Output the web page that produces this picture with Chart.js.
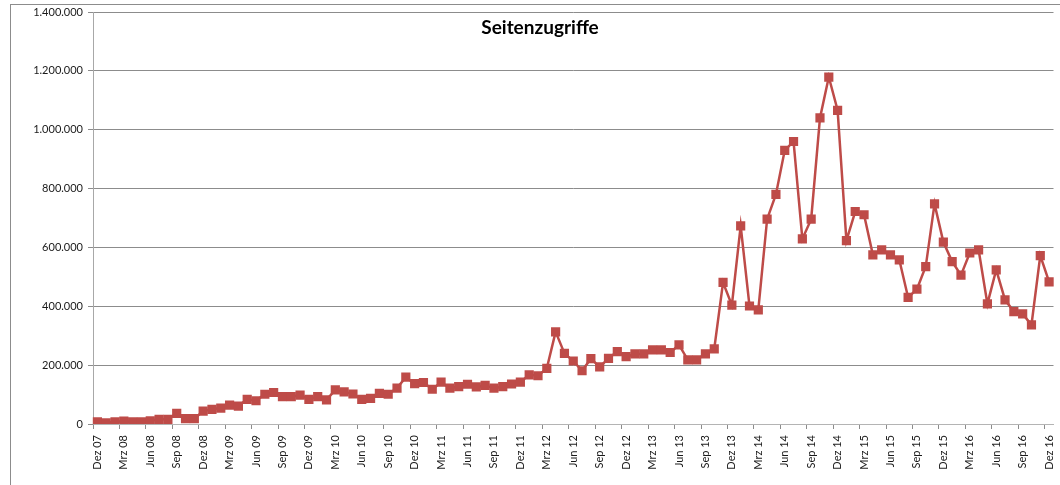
<!DOCTYPE html>
<html>
<head>
<meta charset="utf-8">
<script src="https://cdn.jsdelivr.net/npm/chart.js@4.4.1/dist/chart.umd.min.js"></script>
<style>
    html, body { margin: 0; padding: 0; background: #fff; }
    .wrap { position: relative; width: 1060px; height: 485px; overflow: hidden; }
    .frame { position: absolute; left: 10px; top: 4px; width: 1100px; height: 520px; border: 1px solid #8c8c8c; pointer-events: none; }
    .title { position: absolute; left: 0; width: 1080px; top: 15px; text-align: center; font: bold 19px Lato, 'Open Sans', sans-serif; color: #000; }
</style>
</head>
<body>
<div class="wrap">
    <canvas id="canva" width="1060" height="485"></canvas>
    <div class="frame"></div>
    <div class="title">Seitenzugriffe</div>
</div>
<script>
const months = [
    'Dez 07',
    'Jan 08', 'Feb 08', 'Mrz 08', 'Apr 08', 'Mai 08', 'Jun 08', 'Jul 08', 'Aug 08', 'Sep 08', 'Okt 08', 'Nov 08', 'Dez 08',
    'Jan 09', 'Feb 09', 'Mrz 09', 'Apr 09', 'Mai 09', 'Jun 09', 'Jul 09', 'Aug 09', 'Sep 09', 'Okt 09', 'Nov 09', 'Dez 09',
    'Jan 10', 'Feb 10', 'Mrz 10', 'Apr 10', 'Mai 10', 'Jun 10', 'Jul 10', 'Aug 10', 'Sep 10', 'Okt 10', 'Nov 10', 'Dez 10',
    'Jan 11', 'Feb 11', 'Mrz 11', 'Apr 11', 'Mai 11', 'Jun 11', 'Jul 11', 'Aug 11', 'Sep 11', 'Okt 11', 'Nov 11', 'Dez 11',
    'Jan 12', 'Feb 12', 'Mrz 12', 'Apr 12', 'Mai 12', 'Jun 12', 'Jul 12', 'Aug 12', 'Sep 12', 'Okt 12', 'Nov 12', 'Dez 12',
    'Jan 13', 'Feb 13', 'Mrz 13', 'Apr 13', 'Mai 13', 'Jun 13', 'Jul 13', 'Aug 13', 'Sep 13', 'Okt 13', 'Nov 13', 'Dez 13',
    'Jan 14', 'Feb 14', 'Mrz 14', 'Apr 14', 'Mai 14', 'Jun 14', 'Jul 14', 'Aug 14', 'Sep 14', 'Okt 14', 'Nov 14', 'Dez 14',
    'Jan 15', 'Feb 15', 'Mrz 15', 'Apr 15', 'Mai 15', 'Jun 15', 'Jul 15', 'Aug 15', 'Sep 15', 'Okt 15', 'Nov 15', 'Dez 15',
    'Jan 16', 'Feb 16', 'Mrz 16', 'Apr 16', 'Mai 16', 'Jun 16', 'Jul 16', 'Aug 16', 'Sep 16', 'Okt 16', 'Nov 16', 'Dez 16',
];

// Seitenzugriffe pro Monat
const hits = [
    7000,
    4000, 7000, 10000, 7000, 7000, 11000, 16000, 16000, 36000, 18000, 18000, 44000,
    50000, 54000, 64000, 61000, 84000, 79000, 101000, 107000, 93000, 93000, 98000, 84000,
    93000, 82000, 116000, 109000, 102000, 84000, 87000, 104000, 101000, 122000, 159000, 137000,
    141000, 118000, 142000, 122000, 127000, 135000, 126000, 131000, 122000, 127000, 136000, 142000,
    167000, 164000, 189000, 313000, 240000, 214000, 181000, 222000, 194000, 223000, 246000, 229000,
    238000, 238000, 252000, 252000, 243000, 269000, 218000, 218000, 238000, 255000, 481000, 404000,
    673000, 401000, 388000, 696000, 780000, 930000, 960000, 629000, 696000, 1040000, 1179000, 1066000,
    623000, 722000, 711000, 575000, 592000, 575000, 558000, 430000, 458000, 535000, 748000, 618000,
    552000, 506000, 581000, 592000, 408000, 524000, 422000, 382000, 374000, 337000, 572000, 483000,
];

const yTicks = [0, 200000, 400000, 600000, 800000, 1000000, 1200000, 1400000];

const fmt = (v) => String(v).replace(/\B(?=(\d{3})+(?!\d))/g, '.');
const font = { family: "Lato, 'Open Sans', sans-serif", size: 11 };

new Chart(document.getElementById('canva').getContext('2d'), {
    type: 'line',
    data: {
        labels: months,
        datasets: [
            {
                label: 'Seitenzugriffe',
                data: hits,
                borderColor: '#be4b48',
                backgroundColor: '#be4b48',
                borderWidth: 2.5,
                pointStyle: 'rect',
                pointRadius: 6.5,
                pointBorderWidth: 0,
                tension: 0,
            },
        ],
    },
    options: {
        responsive: false,
        animation: false,
        layout: { padding: { left: 0, right: 5, top: 12, bottom: 0 } },
        scales: {
            x: {
                offset: true,
                grid: {
                    offset: true,
                    drawOnChartArea: false,
                    tickLength: 5,
                    tickColor: (ctx) => (ctx.index % 3 === 0 ? '#8c8c8c' : 'rgba(0,0,0,0)'),
                },
                border: { color: '#b4b4b4', width: 1 },
                ticks: {
                    autoSkip: false,
                    minRotation: 90,
                    maxRotation: 90,
                    padding: 6,
                    color: '#1a1a1a',
                    font: font,
                    callback: (v, i) => (i % 3 === 0 ? months[i] : ''),
                },
                afterFit: (scale) => {
                    scale.height = 61;
                    scale.paddingLeft = 0;
                    scale.paddingRight = 0;
                },
            },
            y: {
                min: 0,
                max: 1400000,
                afterBuildTicks: (scale) => { scale.ticks = yTicks.map((v) => ({ value: v })); },
                grid: { color: '#8c8c8c', tickLength: 5, lineWidth: 1 },
                border: { color: '#a8a8a8', width: 1 },
                ticks: {
                    padding: 5,
                    color: '#1a1a1a',
                    font: font,
                    callback: (v) => fmt(v),
                },
                afterFit: (scale) => {
                    scale.width = 93;
                    scale.paddingTop = 0;
                    scale.paddingBottom = 0;
                },
            },
        },
        plugins: {
            legend: { display: false },
            title: { display: false },
            tooltip: { enabled: false },
        },
    },
});
</script>
</body>
</html>
